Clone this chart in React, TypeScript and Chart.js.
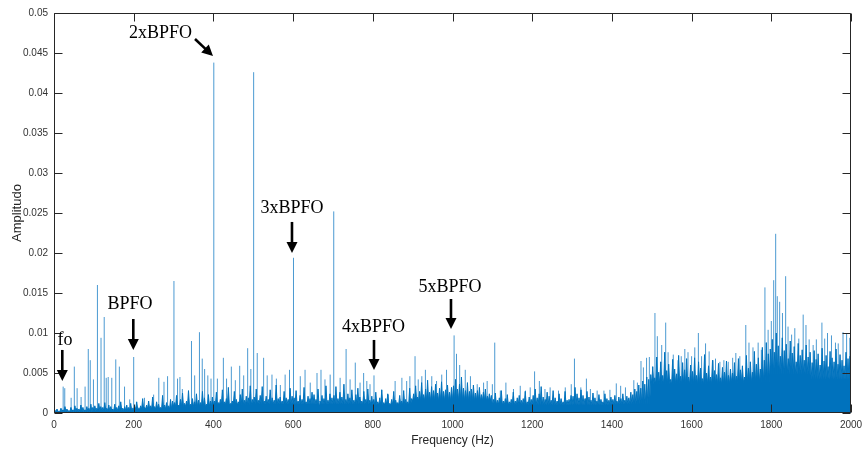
import React, { useEffect, useRef } from 'react';
import { Chart, registerables } from 'chart.js';

Chart.register(...registerables);

// ---- axis ticks ----
const xTickValues = [0, 200, 400, 600, 800, 1000, 1200, 1400, 1600, 1800, 2000];
const xTickLabels = ['0', '200', '400', '600', '800', '1000', '1200', '1400', '1600', '1800', '2000'];
const yTickValues = [0, 0.005, 0.01, 0.015, 0.02, 0.025, 0.03, 0.035, 0.04, 0.045, 0.05];
const yTickLabels = ['0', '0.005', '0.01', '0.015', '0.02', '0.025', '0.03', '0.035', '0.04', '0.045', '0.05'];

// ---- dense spectrum floor: top of each 5 Hz bin, in units of 1e-4 ----
const binWidthHz = 5;
const grass0to495 = [
  3, 5, 2, 6, 4, 8, 5, 3, 7, 4, 9, 6, 5, 10, 7, 4, 8, 6, 11, 7,
  9, 6, 12, 8, 7, 13, 6, 10, 8, 5, 11, 7, 9, 14, 6, 8, 10, 7, 12, 6,
  8, 14, 6, 9, 18, 7, 10, 15, 9, 20, 8, 14, 11, 7, 22, 10, 13, 9, 17, 15,
  13, 22, 10, 17, 25, 12, 15, 28, 11, 18, 14, 24, 16, 13, 27, 19, 11, 23, 15, 20,
  15, 26, 13, 17, 29, 14, 18, 32, 12, 15, 27, 17, 14, 23, 30, 16, 21, 19, 34, 17,
];
const grass500to995 = [
  20, 30, 16, 22, 33, 15, 21, 17, 29, 19, 16, 35, 18, 20, 15, 27, 19, 17, 31, 21,
  19, 28, 15, 22, 17, 32, 14, 21, 18, 26, 23, 17, 30, 15, 22, 18, 34, 16, 24, 19,
  22, 33, 18, 26, 20, 36, 17, 24, 19, 29, 16, 23, 31, 20, 15, 27, 17, 30, 16, 21,
  17, 26, 14, 19, 29, 13, 18, 24, 12, 17, 27, 16, 13, 22, 15, 28, 17, 14, 31, 18,
  24, 34, 20, 27, 38, 23, 30, 41, 26, 33, 28, 36, 25, 31, 39, 27, 29, 35, 26, 32,
];
const grass1000to1495 = [
  34, 42, 30, 36, 45, 31, 28, 38, 27, 30, 35, 25, 28, 32, 23, 26, 30, 21, 24, 22,
  17, 25, 16, 19, 28, 15, 18, 23, 14, 17, 26, 15, 19, 22, 16, 18, 27, 14, 20, 17,
  22, 30, 19, 24, 33, 20, 17, 26, 21, 16, 28, 19, 15, 24, 18, 14, 27, 16, 17, 22,
  21, 32, 24, 19, 29, 22, 18, 27, 20, 16, 25, 19, 15, 23, 17, 14, 24, 18, 16, 20,
  17, 22, 15, 20, 18, 24, 16, 21, 19, 26, 23, 30, 27, 35, 31, 40, 36, 45, 42, 48,
];
const grass1500to1995 = [
  58, 44, 70, 51, 64, 47, 76, 53, 61, 42, 67, 55, 49, 72, 46, 63, 54, 68, 45, 60,
  52, 69, 47, 64, 56, 43, 73, 50, 59, 45, 66, 53, 48, 62, 44, 57, 51, 65, 47, 55,
  50, 63, 46, 68, 54, 59, 45, 72, 56, 64, 51, 77, 61, 69, 55, 82, 66, 88, 74, 80,
  92, 76, 100, 84, 71, 94, 78, 86, 68, 90, 75, 83, 64, 87, 72, 79, 66, 85, 70, 76,
  63, 78, 67, 74, 60, 81, 65, 72, 58, 77, 69, 64, 80, 61, 73, 66, 59, 76, 68, 71,
];
// solid core level per 100 Hz block, units of 1e-4
const coreLevels = [2, 3, 5, 8, 10, 11, 11, 11, 10, 15, 15, 10, 10, 10, 11, 36, 36, 38, 48, 42];

// ---- discrete spectral lines (Hz, amplitude) ----
const peakFreqs = [
  23, 27, 43, 51, 58, 68, 78, 86, 91, 99, 109, 118, 126, 131, 136, 145, 155, 164, 177, 190,
  200, 227, 250, 263, 276, 285, 301, 310, 316, 322, 345, 353, 365, 372, 378, 386, 394, 401, 410, 425,
  433, 445, 455, 466, 476, 486, 494, 501, 510, 526, 535, 547, 558, 568, 580, 591, 601, 618, 630, 643,
  660, 670, 680, 693, 702, 718, 733, 743, 756, 768, 777, 785, 793, 803, 822, 839, 856, 873, 885, 893,
  906, 914, 923, 932, 948, 960, 973, 985, 1004, 1010, 1018, 1032, 1045, 1062, 1078, 1087, 1100, 1106, 1120, 1134,
  1153, 1170, 1183, 1195, 1206, 1218, 1232, 1245, 1266, 1283, 1298, 1306, 1322, 1336, 1346, 1363, 1380, 1395, 1411, 1422,
  1434, 1455, 1464, 1473, 1479, 1487, 1494, 1508, 1514, 1525, 1535, 1541, 1554, 1566, 1574, 1583, 1591, 1600, 1608, 1617,
  1625, 1635, 1644, 1654, 1660, 1671, 1681, 1692, 1703, 1711, 1721, 1736, 1744, 1754, 1767, 1775, 1784, 1792, 1800, 1806,
  1811, 1815, 1821, 1828, 1836, 1842, 1851, 1859, 1869, 1880, 1887, 1895, 1905, 1913, 1927, 1934, 1941, 1951, 1961, 1968,
  1980, 1989, 1997,
];
const peakAmps = [
  0.0033, 0.0031, 0.0019, 0.0058, 0.0031, 0.0020, 0.0033, 0.0080, 0.0066, 0.0042, 0.0160, 0.0094, 0.0120, 0.0044, 0.0045, 0.0044, 0.0067, 0.0058, 0.0033, 0.0017,
  0.0070, 0.0019, 0.0023, 0.0044, 0.0039, 0.0046, 0.0165, 0.0043, 0.0045, 0.0030, 0.0090, 0.0047, 0.0101, 0.0068, 0.0055, 0.0047, 0.0043, 0.0438, 0.0043, 0.0069,
  0.0043, 0.0058, 0.0041, 0.0059, 0.0047, 0.0081, 0.0055, 0.0426, 0.0075, 0.0069, 0.0047, 0.0048, 0.0043, 0.0035, 0.0048, 0.0054, 0.0194, 0.0046, 0.0054, 0.0038,
  0.0050, 0.0054, 0.0042, 0.0048, 0.0252, 0.0044, 0.0080, 0.0042, 0.0063, 0.0038, 0.0050, 0.0040, 0.0036, 0.0047, 0.0029, 0.0023, 0.0040, 0.0044, 0.0040, 0.0046,
  0.0071, 0.0042, 0.0046, 0.0054, 0.0046, 0.0040, 0.0048, 0.0054, 0.0097, 0.0074, 0.0060, 0.0054, 0.0046, 0.0036, 0.0038, 0.0040, 0.0036, 0.0088, 0.0028, 0.0038,
  0.0030, 0.0034, 0.0028, 0.0032, 0.0052, 0.0040, 0.0030, 0.0032, 0.0028, 0.0032, 0.0036, 0.0068, 0.0032, 0.0043, 0.0030, 0.0028, 0.0028, 0.0029, 0.0037, 0.0034,
  0.0032, 0.0041, 0.0038, 0.0065, 0.0057, 0.0069, 0.0070, 0.0125, 0.0096, 0.0085, 0.0113, 0.0076, 0.0073, 0.0066, 0.0071, 0.0080, 0.0076, 0.0071, 0.0082, 0.0100,
  0.0071, 0.0087, 0.0077, 0.0066, 0.0068, 0.0064, 0.0066, 0.0064, 0.0069, 0.0075, 0.0071, 0.0110, 0.0088, 0.0082, 0.0088, 0.0079, 0.0157, 0.0104, 0.0115, 0.0166,
  0.0224, 0.0146, 0.0139, 0.0125, 0.0171, 0.0108, 0.0098, 0.0106, 0.0093, 0.0123, 0.0110, 0.0092, 0.0085, 0.0092, 0.0113, 0.0093, 0.0100, 0.0097, 0.0088, 0.0087,
  0.0101, 0.0099, 0.0094,
];

// ---- annotation labels (text centre and arrow in data coordinates) ----
const annotLabels = ['fo', 'BPFO', '2xBPFO', '3xBPFO', '4xBPFO', '5xBPFO'];
const annotTextHz = [27.6, 190.7, 267.3, 597.2, 801.8, 993.7];
const annotTextAmp = [0.00913, 0.01363, 0.0475, 0.02563, 0.01075, 0.01575];
const arrowFromHz = [20.8, 199, 353.8, 597.2, 803, 996.2];
const arrowFromAmp = [0.00788, 0.01175, 0.04675, 0.02388, 0.00913, 0.01425];
const arrowToHz = [20.8, 199, 399, 597.2, 803, 996.2];
const arrowToAmp = [0.0040, 0.00788, 0.04463, 0.0200, 0.00538, 0.0105];

const BLUE = '#0072BD';
const LINE_BLUE = '#4b9ad2';
const AXIS = '#262626';
const SANS = "'Liberation Sans', Arial, sans-serif";
const SERIF = "'Liberation Serif', 'Times New Roman', serif";

function buildFloor() {
  const grass = [...grass0to495, ...grass500to995, ...grass1000to1495, ...grass1500to1995];
  const pts: { x: number; y: number }[] = [];
  grass.forEach((g, i) => {
    const f0 = i * binWidthHz;
    const core = coreLevels[Math.floor(f0 / 100)] * 1e-4;
    pts.push({ x: f0, y: core });
    pts.push({ x: f0 + binWidthHz / 2, y: g * 1e-4 });
  });
  pts.push({ x: 2000, y: coreLevels[coreLevels.length - 1] * 1e-4 });
  return pts;
}

function buildPeaks() {
  const pts: { x: number; y: number | null }[] = [];
  peakFreqs.forEach((f, i) => {
    pts.push({ x: f, y: 0 });
    pts.push({ x: f, y: peakAmps[i] });
    pts.push({ x: f, y: null });
  });
  return pts;
}

function drawArrow(ctx: CanvasRenderingContext2D, x1: number, y1: number, x2: number, y2: number) {
  const ang = Math.atan2(y2 - y1, x2 - x1);
  const headLen = 11;
  const headW = 5.5;
  const bx = x2 - headLen * Math.cos(ang);
  const by = y2 - headLen * Math.sin(ang);
  ctx.beginPath();
  ctx.moveTo(x1, y1);
  ctx.lineTo(bx + Math.cos(ang), by + Math.sin(ang));
  ctx.lineWidth = 2.6;
  ctx.stroke();
  ctx.beginPath();
  ctx.moveTo(x2, y2);
  ctx.lineTo(bx + headW * Math.sin(ang), by - headW * Math.cos(ang));
  ctx.lineTo(bx - headW * Math.sin(ang), by + headW * Math.cos(ang));
  ctx.closePath();
  ctx.fill();
}

const framePlugin = {
  id: 'matlabFrame',
  afterDraw(chart: any) {
    const { ctx, chartArea } = chart;
    const xs = chart.scales.x;
    const ys = chart.scales.y;
    const L = Math.round(chartArea.left) + 0.5;
    const R = Math.round(chartArea.right) - 0.5;
    const T = Math.round(chartArea.top) + 0.5;
    const B = Math.round(chartArea.bottom) - 0.5;
    const tl = 8;
    ctx.save();
    ctx.strokeStyle = AXIS;
    ctx.lineWidth = 1;
    ctx.beginPath();
    ctx.rect(L, T, R - L, B - T);
    xTickValues.forEach((v) => {
      const px = Math.round(xs.getPixelForValue(v)) + 0.5;
      ctx.moveTo(px, B);
      ctx.lineTo(px, B - tl);
      ctx.moveTo(px, T);
      ctx.lineTo(px, T + tl);
    });
    yTickValues.forEach((v) => {
      const py = Math.round(ys.getPixelForValue(v)) + 0.5;
      ctx.moveTo(L, py);
      ctx.lineTo(L + tl, py);
      ctx.moveTo(R, py);
      ctx.lineTo(R - tl, py);
    });
    ctx.stroke();

    // annotations
    ctx.fillStyle = '#000';
    ctx.strokeStyle = '#000';
    ctx.font = `18px ${SERIF}`;
    ctx.textAlign = 'center';
    ctx.textBaseline = 'middle';
    annotLabels.forEach((t, i) => {
      ctx.fillText(t, xs.getPixelForValue(annotTextHz[i]), ys.getPixelForValue(annotTextAmp[i]));
      drawArrow(
        ctx,
        xs.getPixelForValue(arrowFromHz[i]),
        ys.getPixelForValue(arrowFromAmp[i]),
        xs.getPixelForValue(arrowToHz[i]),
        ys.getPixelForValue(arrowToAmp[i])
      );
    });
    ctx.restore();
  },
};

export default function App() {
  const ref = useRef<HTMLCanvasElement | null>(null);
  useEffect(() => {
    if (!ref.current) return;
    const chart = new Chart(ref.current, {
      type: 'scatter',
      data: {
        datasets: [
          {
            label: 'floor',
            data: buildFloor(),
            showLine: true,
            borderColor: BLUE,
            backgroundColor: BLUE,
            borderWidth: 1,
            pointRadius: 0,
            fill: 'origin',
            order: 1,
          },
          {
            label: 'lines',
            data: buildPeaks(),
            showLine: true,
            spanGaps: false,
            borderColor: LINE_BLUE,
            borderWidth: 1,
            pointRadius: 0,
            fill: false,
            order: 2,
          },
        ],
      },
      options: {
        animation: false,
        responsive: false,
        maintainAspectRatio: false,
        events: [],
        layout: { padding: { top: 13, right: 12, left: 0, bottom: 0 } },
        plugins: { legend: { display: false }, tooltip: { enabled: false } },
        scales: {
          x: {
            type: 'linear',
            min: 0,
            max: 2000,
            afterBuildTicks: (s: any) => {
              s.ticks = xTickValues.map((v) => ({ value: v }));
            },
            afterFit: (s: any) => {
              s.height = 37;
              s.paddingLeft = 0;
              s.paddingRight = 0;
            },
            ticks: {
              autoSkip: false,
              maxRotation: 0,
              padding: 6,
              color: '#333',
              font: { family: SANS, size: 10 },
              callback: (_v: any, i: number) => xTickLabels[i],
            },
            grid: { display: false, drawTicks: false },
            border: { display: false },
            title: {
              display: true,
              text: 'Frequency (Hz)',
              color: '#262626',
              font: { family: SANS, size: 12 },
              padding: { top: 2, bottom: 2 },
            },
          },
          y: {
            type: 'linear',
            min: 0,
            max: 0.05,
            afterBuildTicks: (s: any) => {
              s.ticks = yTickValues.map((v) => ({ value: v }));
            },
            afterFit: (s: any) => {
              s.width = 54;
              s.paddingTop = 0;
              s.paddingBottom = 0;
            },
            ticks: {
              autoSkip: false,
              padding: 6,
              color: '#333',
              font: { family: SANS, size: 10 },
              callback: (_v: any, i: number) => yTickLabels[i],
            },
            grid: { display: false, drawTicks: false },
            border: { display: false },
            title: {
              display: true,
              text: 'Amplitudo',
              color: '#262626',
              font: { family: SANS, size: 13 },
              padding: { top: 10, bottom: 10 },
            },
          },
        },
      },
      plugins: [framePlugin],
    });
    return () => chart.destroy();
  }, []);

  return (
    <div style={{ position: 'absolute', left: 0, top: 0, width: 863, height: 450, background: '#fff' }}>
      <canvas ref={ref} width={863} height={450} style={{ display: 'block' }} />
    </div>
  );
}
